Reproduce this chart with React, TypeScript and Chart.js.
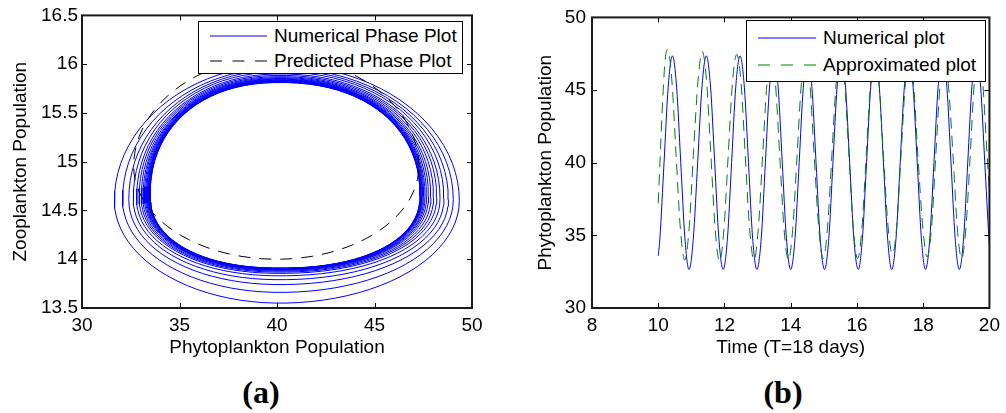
import React, { useEffect, useRef } from "react";
import { Chart, registerables } from "chart.js";

Chart.register(...registerables);

const FONT = "'Liberation Sans', Arial, Helvetica, sans-serif";

// ---------------- Panel (a): phase plot ----------------
const phaseXTicks = [30, 35, 40, 45, 50];
const phaseXTickLabels = ["30", "35", "40", "45", "50"];
const phaseYTicks = [13.5, 14, 14.5, 15, 15.5, 16, 16.5];
const phaseYTickLabels = ["13.5", "14", "14.5", "15", "15.5", "16", "16.5"];

// Successive loops of the numerical spiral (outermost -> limit cycle)
const ringLeft = [31.66, 32.08, 32.4, 32.63, 32.8, 32.93, 33.04, 33.13, 33.2, 33.26, 33.31, 33.35, 33.38, 33.41, 33.43, 33.45, 33.465, 33.478, 33.488, 33.496];
const ringRight = [49.35, 49.04, 48.79, 48.56, 48.36, 48.19, 48.03, 47.89, 47.77, 47.67, 47.59, 47.53, 47.48, 47.44, 47.41, 47.385, 47.365, 47.35, 47.34, 47.332];
const ringBottom = [13.55, 13.66, 13.74, 13.79, 13.83, 13.855, 13.868, 13.878, 13.886, 13.892, 13.896, 13.899, 13.901, 13.903, 13.904, 13.905, 13.906, 13.907, 13.908, 13.909];
const ringTop = [15.99, 15.96, 15.94, 15.92, 15.9, 15.885, 15.872, 15.862, 15.853, 15.846, 15.84, 15.835, 15.83, 15.826, 15.823, 15.82, 15.818, 15.816, 15.814, 15.812];
const ringWaist = [14.6, 14.61, 14.61, 14.62, 14.62, 14.63, 14.63, 14.63, 14.64, 14.64, 14.64, 14.64, 14.65, 14.65, 14.65, 14.65, 14.65, 14.65, 14.65, 14.65];
// how "square" each loop looks (2 = ellipse)
const ringRoundness = [2.0, 2.03, 2.06, 2.09, 2.11, 2.13, 2.15, 2.16, 2.17, 2.18, 2.19, 2.2, 2.2, 2.2, 2.2, 2.2, 2.2, 2.2, 2.2, 2.2];
const ringCenterX = 40.15;

// Predicted (approximate) orbit
const predictedLeft = 32.65;
const predictedRight = 47.27;
const predictedBottom = 14.0;
const predictedTop = 16.07;
const predictedWaist = 14.95;
const predictedCenterX = 39.98;
const predictedRoundness = 2;

// ---------------- Panel (b): time series ----------------
const timeXTicks = [8, 10, 12, 14, 16, 18, 20];
const timeXTickLabels = ["8", "10", "12", "14", "16", "18", "20"];
const timeYTicks = [30, 35, 40, 45, 50];
const timeYTickLabels = ["30", "35", "40", "45", "50"];

const numericalTimes = [10.0, 10.05, 10.175, 10.3, 10.43, 10.555, 10.68, 10.805, 10.93, 11.06, 11.19, 11.32, 11.45, 11.58, 11.705, 11.83, 11.96, 12.09, 12.215, 12.34, 12.47, 12.6, 12.725, 12.85, 12.98, 13.11, 13.235, 13.36, 13.49, 13.62, 13.745, 13.87, 14.0, 14.13, 14.255, 14.38, 14.51, 14.64, 14.765, 14.89, 15.02, 15.15, 15.275, 15.4, 15.53, 15.655, 15.78, 15.905, 16.04, 16.165, 16.29, 16.415, 16.55, 16.675, 16.8, 16.925, 17.05, 17.18, 17.305, 17.43, 17.57, 17.695, 17.82, 17.945, 18.07, 18.2, 18.325, 18.45, 18.59, 18.715, 18.84, 18.965, 19.09, 19.22, 19.345, 19.47, 19.61, 19.735, 19.86, 19.985, 20.0];
const numericalValues = [33.6, 34.8, 40.0, 45.2, 47.35, 45.2, 40.0, 34.8, 32.65, 34.8, 40.0, 45.2, 47.35, 45.2, 40.0, 34.8, 32.65, 34.8, 40.0, 45.2, 47.35, 45.2, 40.0, 34.8, 32.65, 34.8, 40.0, 45.2, 47.35, 45.2, 40.0, 34.8, 32.65, 34.8, 40.0, 45.2, 47.35, 45.2, 40.0, 34.8, 32.65, 34.8, 40.0, 45.2, 47.35, 45.2, 40.0, 34.8, 32.65, 34.8, 40.0, 45.2, 47.35, 45.2, 40.0, 34.8, 32.65, 34.8, 40.0, 45.2, 47.35, 45.2, 40.0, 34.8, 32.65, 34.8, 40.0, 45.2, 47.35, 45.2, 40.0, 34.8, 32.65, 34.8, 40.0, 45.2, 47.35, 45.2, 40.0, 34.8, 34.3];

const approxTimes = [10.0, 10.07, 10.14, 10.21, 10.28, 10.41, 10.54, 10.67, 10.8, 10.93, 11.06, 11.2, 11.33, 11.46, 11.59, 11.72, 11.85, 11.98, 12.11, 12.24, 12.37, 12.5, 12.63, 12.76, 12.89, 13.02, 13.15, 13.28, 13.41, 13.54, 13.67, 13.8, 13.93, 14.06, 14.19, 14.32, 14.45, 14.58, 14.71, 14.85, 14.98, 15.11, 15.24, 15.37, 15.5, 15.63, 15.76, 15.89, 16.02, 16.15, 16.28, 16.41, 16.54, 16.67, 16.8, 16.94, 17.07, 17.2, 17.33, 17.46, 17.58, 17.71, 17.84, 17.99, 18.12, 18.25, 18.38, 18.51, 18.63, 18.76, 18.9, 19.03, 19.16, 19.29, 19.42, 19.54, 19.67, 19.8, 19.93, 20.0];
const approxValues = [37.2, 41.0, 44.6, 47.1, 47.8, 45.7, 40.5, 35.4, 33.3, 35.4, 40.5, 45.6, 47.65, 45.6, 40.5, 35.4, 33.2, 35.3, 40.4, 45.5, 47.45, 45.5, 40.4, 35.4, 33.3, 35.4, 40.4, 45.4, 47.4, 45.4, 40.4, 35.4, 33.3, 35.4, 40.4, 45.4, 47.4, 45.4, 40.4, 35.4, 33.4, 35.5, 40.4, 45.4, 47.4, 45.4, 40.4, 35.5, 33.4, 35.5, 40.5, 45.4, 47.4, 45.4, 40.5, 35.6, 33.7, 35.6, 40.5, 45.4, 47.4, 45.4, 40.5, 35.5, 33.5, 35.5, 40.5, 45.4, 47.4, 45.4, 40.5, 35.5, 33.4, 35.5, 40.5, 45.4, 47.4, 45.4, 40.5, 38.0];

// ---------------- helpers ----------------
const SAMPLE_STEPS = 90;
function orbitPoints(l: number, r: number, b: number, t: number, w: number, cx: number, n: number) {
  const pts: { x: number; y: number }[] = [];
  for (let i = 0; i <= SAMPLE_STEPS; i++) {
    const a = (i / SAMPLE_STEPS) * Math.PI * 2;
    const c = Math.cos(a);
    const s = Math.sin(a);
    const u = Math.sign(c) * Math.pow(Math.abs(c), 2 / n);
    const v = Math.sign(s) * Math.pow(Math.abs(s), 2 / n);
    pts.push({
      x: cx + (u >= 0 ? r - cx : cx - l) * u,
      y: w + (v >= 0 ? t - w : w - b) * v,
    });
  }
  return pts;
}

const boxPlugin = {
  id: "matlabBox",
  afterDraw(chart: any) {
    const { ctx, chartArea } = chart;
    const { left, right, top, bottom } = chartArea;
    const xs = chart.scales.x;
    const ys = chart.scales.y;
    const tl = 5;
    ctx.save();
    ctx.strokeStyle = "#000";
    ctx.lineWidth = 1;
    ctx.beginPath();
    xs.ticks.forEach((tk: any) => {
      const px = Math.round(xs.getPixelForValue(tk.value)) + 0.5;
      ctx.moveTo(px, bottom);
      ctx.lineTo(px, bottom - tl);
      ctx.moveTo(px, top);
      ctx.lineTo(px, top + tl);
    });
    ys.ticks.forEach((tk: any) => {
      const py = Math.round(ys.getPixelForValue(tk.value)) + 0.5;
      ctx.moveTo(left, py);
      ctx.lineTo(left + tl, py);
      ctx.moveTo(right, py);
      ctx.lineTo(right - tl, py);
    });
    ctx.stroke();
    ctx.lineWidth = 2;
    ctx.strokeStyle = "#1a1a1a";
    ctx.strokeRect(left, top, right - left, bottom - top);
    ctx.restore();
  },
};

function scaleOpts(
  min: number,
  max: number,
  ticks: number[],
  labels: string[],
  title: string,
  tickPad: number,
  titlePad: any,
  isX: boolean,
  size: number
) {
  return {
    type: "linear",
    position: isX ? "bottom" : "left",
    min,
    max,
    grid: { display: false, drawTicks: false },
    border: { display: false },
    afterBuildTicks: (s: any) => {
      s.ticks = ticks.map((v) => ({ value: v }));
    },
    afterFit: (s: any) => {
      if (isX) s.height = size;
      else s.width = size;
    },
    ticks: {
      autoSkip: false,
      maxRotation: 0,
      minRotation: 0,
      padding: tickPad,
      color: "#000",
      font: { family: FONT, size: 19 },
      callback: (_v: any, i: number) => labels[i],
    },
    title: {
      display: true,
      text: title,
      color: "#000",
      font: { family: FONT, size: 19 },
      padding: titlePad,
    },
  };
}

function LegendBox(props: {
  left: number;
  top: number;
  width: number;
  height: number;
  rows: { label: string; color: string; dash?: string; y: number }[];
  lineX1: number;
  lineX2: number;
  textX: number;
}) {
  const { left, top, width, height, rows, lineX1, lineX2, textX } = props;
  return (
    <div
      style={{
        position: "absolute",
        left,
        top,
        width,
        height,
        boxSizing: "border-box",
        border: "1px solid #000",
        background: "#fff",
      }}
    >
      <svg width={width} height={height} style={{ position: "absolute", left: -1, top: -1 }}>
        {rows.map((r, i) => (
          <line
            key={i}
            x1={lineX1}
            x2={lineX2}
            y1={r.y}
            y2={r.y}
            stroke={r.color}
            strokeWidth={1}
            strokeDasharray={r.dash}
          />
        ))}
      </svg>
      {rows.map((r, i) => (
        <div
          key={i}
          style={{
            position: "absolute",
            left: textX - 1,
            top: r.y - 11 - 1,
            height: 22,
            lineHeight: "22px",
            fontFamily: FONT,
            fontSize: 19,
            color: "#000",
            whiteSpace: "nowrap",
          }}
        >
          {r.label}
        </div>
      ))}
    </div>
  );
}

export default function App() {
  const leftRef = useRef<HTMLCanvasElement>(null);
  const rightRef = useRef<HTMLCanvasElement>(null);

  useEffect(() => {
    const numericalOrbit: { x: number; y: number }[] = [];
    ringLeft.forEach((_, k) => {
      if (k > 0) numericalOrbit.push({ x: NaN, y: NaN });
      numericalOrbit.push(
        ...orbitPoints(ringLeft[k], ringRight[k], ringBottom[k], ringTop[k], ringWaist[k], ringCenterX, ringRoundness[k])
      );
    });
    const predictedOrbit = orbitPoints(
      predictedLeft,
      predictedRight,
      predictedBottom,
      predictedTop,
      predictedWaist,
      predictedCenterX,
      predictedRoundness
    );

    const c1 = new Chart(leftRef.current!, {
      type: "scatter",
      data: {
        datasets: [
          {
            label: "Numerical Phase Plot",
            data: numericalOrbit,
            showLine: true,
            spanGaps: false,
            borderColor: "#0000ff",
            borderWidth: 1,
            pointRadius: 0,
            tension: 0,
            fill: false,
            order: 2,
          },
          {
            label: "Predicted Phase Plot",
            data: predictedOrbit,
            showLine: true,
            borderColor: "#000000",
            borderWidth: 1,
            borderDash: [12, 9],
            pointRadius: 0,
            tension: 0,
            fill: false,
            order: 1,
          },
        ],
      },
      options: {
        responsive: false,
        animation: false,
        devicePixelRatio: 1,
        layout: { padding: { left: 0, top: 15, right: 28, bottom: 0 } },
        plugins: { legend: { display: false }, tooltip: { enabled: false } },
        events: [],
        scales: {
          x: scaleOpts(30, 50, phaseXTicks, phaseXTickLabels, "Phytoplankton Population", 6, { top: 0, bottom: 6 }, true, 57),
          y: scaleOpts(13.5, 16.5, phaseYTicks, phaseYTickLabels, "Zooplankton Population", 4, { top: 9, bottom: 0 }, false, 82),
        },
      } as any,
      plugins: [boxPlugin],
    });

    const c2 = new Chart(rightRef.current!, {
      type: "scatter",
      data: {
        datasets: [
          {
            label: "Numerical plot",
            data: numericalTimes.map((t, i) => ({ x: t, y: numericalValues[i] })),
            showLine: true,
            borderColor: "#0000ff",
            borderWidth: 1,
            pointRadius: 0,
            cubicInterpolationMode: "monotone",
            fill: false,
            order: 2,
          },
          {
            label: "Approximated plot",
            data: approxTimes.map((t, i) => ({ x: t, y: approxValues[i] })),
            showLine: true,
            borderColor: "#008000",
            borderWidth: 1,
            borderDash: [11, 7],
            pointRadius: 0,
            cubicInterpolationMode: "monotone",
            fill: false,
            order: 1,
          },
        ],
      },
      options: {
        responsive: false,
        animation: false,
        devicePixelRatio: 1,
        layout: { padding: { left: 0, top: 15, right: 13, bottom: 0 } },
        plugins: { legend: { display: false }, tooltip: { enabled: false } },
        events: [],
        scales: {
          x: scaleOpts(8, 20, timeXTicks, timeXTickLabels, "Time (T=18 days)", 6, { top: 0, bottom: 6 }, true, 57),
          y: scaleOpts(30, 50, timeYTicks, timeYTickLabels, "Phytoplankton Population", 6, { top: 34, bottom: 0 }, false, 92),
        },
      } as any,
      plugins: [boxPlugin],
    });

    return () => {
      c1.destroy();
      c2.destroy();
    };
  }, []);

  const captionStyle: React.CSSProperties = {
    position: "absolute",
    width: 100,
    top: 376,
    height: 32,
    lineHeight: "32px",
    textAlign: "center",
    fontFamily: "'Liberation Serif', 'Times New Roman', serif",
    fontWeight: "bold",
    fontSize: 32,
    color: "#000",
  };

  return (
    <div style={{ position: "absolute", left: 0, top: 0, width: 1006, height: 413, background: "#fff", overflow: "hidden" }}>
      <canvas ref={leftRef} width={500} height={365} style={{ position: "absolute", left: 0, top: 0 }} />
      <canvas ref={rightRef} width={506} height={365} style={{ position: "absolute", left: 500, top: 0 }} />
      <LegendBox
        left={198}
        top={21}
        width={265}
        height={53}
        lineX1={12}
        lineX2={69}
        textX={76}
        rows={[
          { label: "Numerical Phase Plot", color: "#0000ff", y: 15 },
          { label: "Predicted Phase Plot", color: "#000000", dash: "12 10.5", y: 40 },
        ]}
      />
      <LegendBox
        left={746}
        top={20}
        width={240}
        height={62}
        lineX1={12}
        lineX2={70}
        textX={77}
        rows={[
          { label: "Numerical plot", color: "#0000ff", y: 18 },
          { label: "Approximated plot", color: "#008000", dash: "12 11", y: 45 },
        ]}
      />
      <div style={{ ...captionStyle, left: 211 }}>(a)</div>
      <div style={{ ...captionStyle, left: 733 }}>(b)</div>
    </div>
  );
}
